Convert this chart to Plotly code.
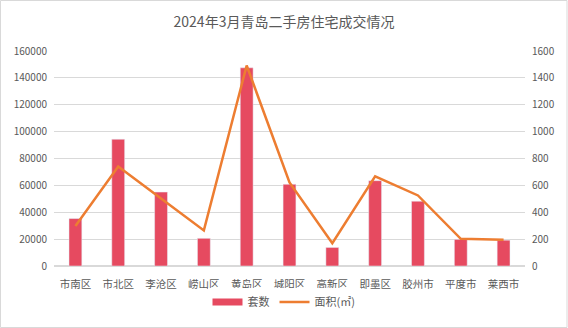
import plotly.graph_objects as go

categories = ["市南区", "市北区", "李沧区", "崂山区", "黄岛区", "城阳区", "高新区", "即墨区", "胶州市", "平度市", "莱西市"]
units = [35300, 94300, 55000, 20600, 147500, 60800, 13800, 63500, 48200, 19800, 19200]
area = [298, 740, 502, 265, 1492, 622, 170, 668, 525, 202, 196]
left_ticks = [0, 20000, 40000, 60000, 80000, 100000, 120000, 140000, 160000]
right_ticks = [0, 200, 400, 600, 800, 1000, 1200, 1400, 1600]

font_family = "Noto Sans CJK SC, Liberation Sans, sans-serif"
tick_color = "#595959"
bar_color = "#E64A60"
line_color = "#ED7D31"

fig = go.Figure()
fig.add_trace(go.Bar(x=categories, y=units, name="套数", marker=dict(color=bar_color),
                     width=0.3, yaxis="y", showlegend=False))
fig.add_trace(go.Scatter(x=categories, y=area, name="面积(㎡)", mode="lines",
                         line=dict(color=line_color, width=2.5), yaxis="y2", showlegend=False))
# legend entries
fig.add_trace(go.Scatter(x=[None], y=[None], name="套数", mode="lines",
                         line=dict(color=bar_color, width=7), yaxis="y"))
fig.add_trace(go.Scatter(x=[None], y=[None], name="面积(㎡)", mode="lines",
                         line=dict(color=line_color, width=2.5), yaxis="y2"))

fig.update_layout(
    width=568, height=328,
    margin=dict(l=54, r=43, t=51, b=62),
    paper_bgcolor="white", plot_bgcolor="white",
    font=dict(family=font_family, size=10, color=tick_color),
    title=dict(text="2024年3月青岛二手房住宅成交情况", x=0.5, xanchor="center",
               y=1 - 22 / 328, yanchor="middle",
               font=dict(size=14, color="#595959", family=font_family)),
    xaxis=dict(showgrid=False, showline=False, ticks="", tickfont=dict(size=10.5),
               ticklabelstandoff=10, automargin=False),
    yaxis=dict(range=[0, 160000], tickvals=left_ticks, ticktext=[str(v) for v in left_ticks],
               showgrid=True, gridcolor="#D9D9D9", gridwidth=1, zeroline=True,
               zerolinecolor="#D9D9D9", showline=False, ticks="", tickfont=dict(size=10),
               ticklabelstandoff=6, automargin=False),
    yaxis2=dict(range=[0, 1600], tickvals=right_ticks, ticktext=[str(v) for v in right_ticks],
                overlaying="y", side="right", showgrid=False, zeroline=False,
                showline=False, ticks="", tickfont=dict(size=10),
                ticklabelstandoff=6, automargin=False),
    legend=dict(orientation="h", x=0.5, xref="container", xanchor="center",
                y=1 - 302 / 328, yref="container", yanchor="middle",
                font=dict(size=11), itemwidth=30, traceorder="normal"),
    bargap=0.7,
)

fig.add_shape(type="rect", xref="paper", yref="paper",
              x0=-53.5 / 471, x1=1 + 42 / 471, y0=-61.5 / 215, y1=1 + 50.5 / 215,
              line=dict(color="#D9D9D9", width=1), fillcolor="rgba(0,0,0,0)")

fig.write_html("out.html")
